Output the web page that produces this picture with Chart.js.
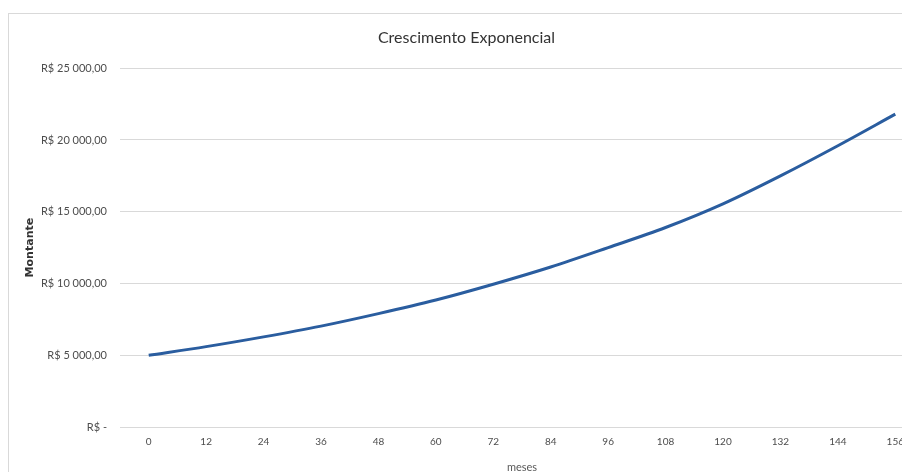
<!DOCTYPE html>
<html>
<head>
<meta charset="utf-8">
<script src="https://cdn.jsdelivr.net/npm/chart.js@4/dist/chart.umd.min.js"></script>
<style>
  html, body { margin: 0; padding: 0; background: #fff; overflow: hidden; width: 902px; height: 472px; }
  #box { position: absolute; left: 8px; top: 13px; width: 930px; height: 490px; border: 1px solid #d9d9d9; background: #fff; }
  #c { display: block; }
</style>
</head>
<body>
<div id="box"><canvas id="c" width="930" height="490"></canvas></div>
<script>
const months = [0, 12, 24, 36, 48, 60, 72, 84, 96, 108, 120, 132, 144, 156];
const montante = [5000, 5600, 6280, 7030, 7900, 8850, 9950, 11150, 12500, 13900, 15550, 17500, 19600, 21800];
const yTicks = [0, 5000, 10000, 15000, 20000, 25000];
const chartTitle = 'Crescimento Exponencial';
const xTitle = 'meses';
const yTitle = 'Montante';

function fmtBRL(v) {
  if (v === 0) return 'R$ -';
  const s = Math.round(v).toString().replace(/\B(?=(\d{3})+(?!\d))/g, ' ');
  return 'R$ ' + s + ',00';
}

new Chart(document.getElementById('c'), {
  type: 'line',
  data: {
    labels: months.map(String),
    datasets: [{
      data: montante,
      borderColor: '#2a5d9f',
      borderWidth: 3,
      pointRadius: 0,
      tension: 0.4,
      cubicInterpolationMode: 'monotone',
      fill: false
    }]
  },
  options: {
    responsive: false,
    animation: false,
    layout: { padding: { left: 0, right: 15, top: 0, bottom: 27 } },
    plugins: {
      legend: { display: false },
      tooltip: { enabled: false },
      title: {
        display: true,
        text: chartTitle,
        color: '#333333',
        font: { family: 'Lato', size: 16, weight: 'normal' },
        padding: { top: 14, bottom: 21 }
      }
    },
    scales: {
      x: {
        offset: true,
        afterFit: (s) => { s.height = 50; },
        grid: { display: false, drawTicks: false },
        border: { display: false },
        ticks: { color: '#4d4d4d', font: { family: 'Lato', size: 10 }, padding: 9, maxRotation: 0, autoSkip: false },
        title: { display: true, text: xTitle, color: '#595959', font: { family: 'Lato', size: 11 }, padding: { top: 13, bottom: 3 } }
      },
      y: {
        min: 0,
        max: 25000,
        afterBuildTicks: (s) => { s.ticks = yTicks.map(v => ({ value: v })); },
        afterFit: (s) => { s.width = 111; },
        grid: { color: '#d9d9d9', lineWidth: 1, drawTicks: false },
        border: { display: false },
        ticks: { color: '#4d4d4d', font: { family: 'Lato', size: 11 }, padding: 13, callback: (v) => fmtBRL(v) },
        title: { display: true, text: yTitle, color: '#333333', font: { family: 'DejaVu Sans', size: 11, weight: 'bold' }, padding: { top: 15, bottom: 0 } }
      }
    }
  }
});
</script>
</body>
</html>
